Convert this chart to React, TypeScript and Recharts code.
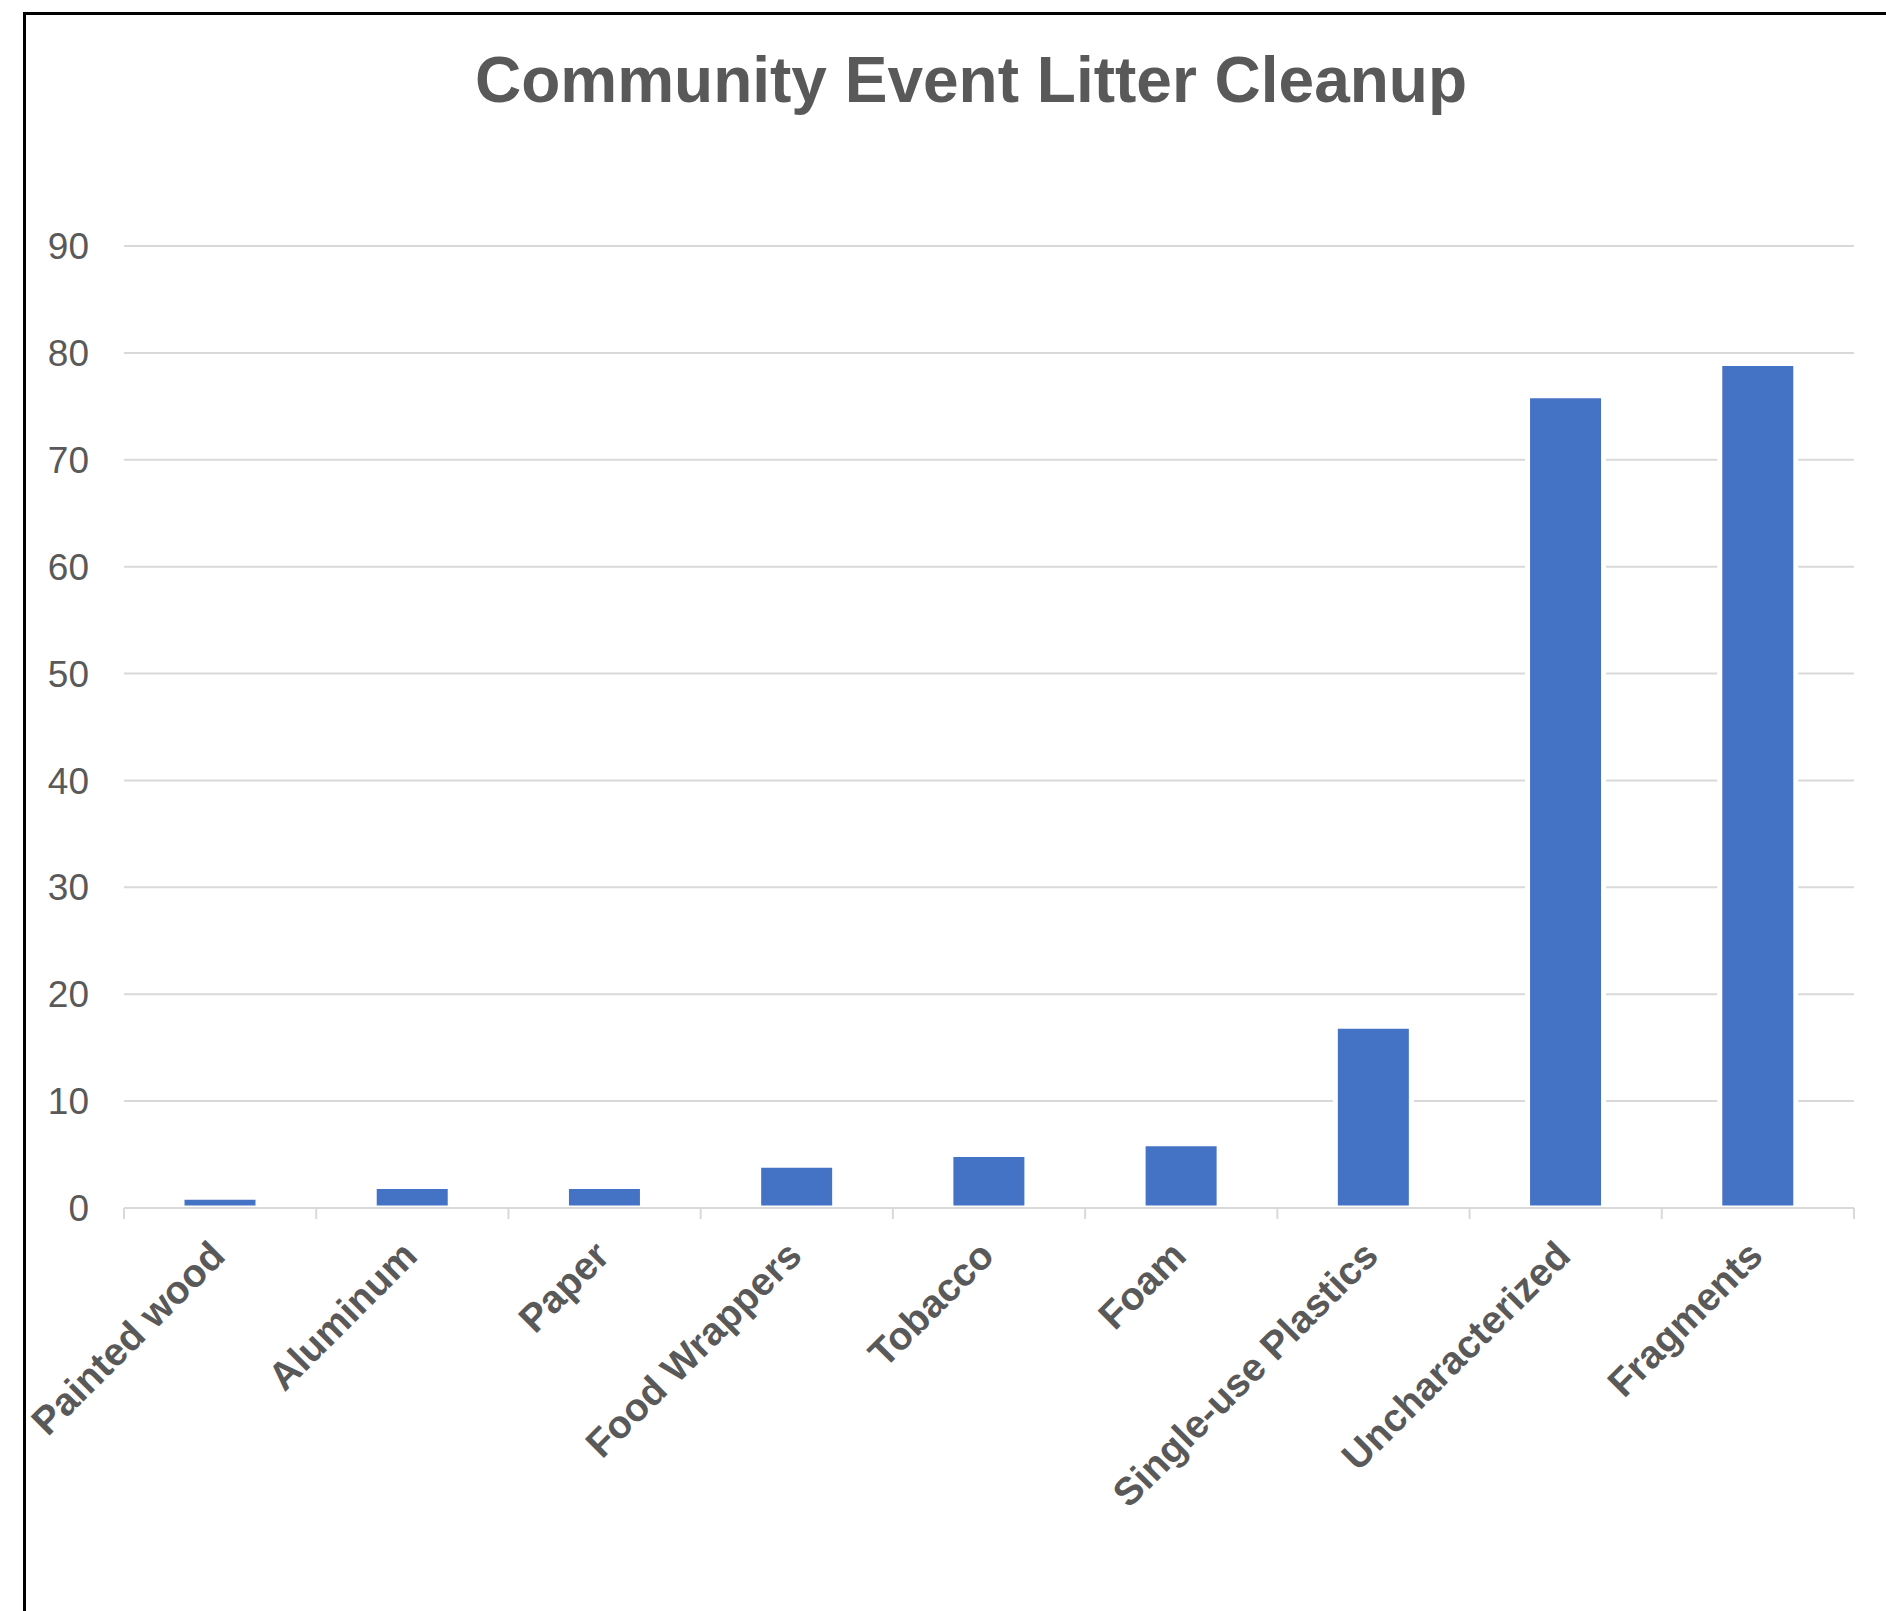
import { Bar, BarChart, CartesianGrid, XAxis, YAxis } from 'recharts';

const categories = ['Painted wood', 'Aluminum', 'Paper', 'Food Wrappers', 'Tobacco', 'Foam', 'Single-use Plastics', 'Uncharacterized', 'Fragments'];
const counts = [1, 2, 2, 4, 5, 6, 17, 76, 79];
const yTicks = [0, 10, 20, 30, 40, 50, 60, 70, 80, 90];

const data = categories.map((name, i) => ({ name, count: counts[i] }));

const FONT = '"Liberation Sans", Arial, sans-serif';
const TEXT = '#595959';
const GRID = '#d9d9d9';

const W = 1886;
const H = 1611;
const M = { top: 246, right: 32, left: 24, bottom: 203 };
const Y_AXIS_W = 100;
const X_AXIS_H = 200;
const BAND = (W - M.left - Y_AXIS_W - M.right) / categories.length;

function CategoryTick(props: any) {
  const { x, y, payload, index } = props;
  const half = BAND / 2;
  const tx = x + 7;
  const ty = y + 50;
  return (
    <g>
      <line x1={x - half} y1={y} x2={x - half} y2={y + 11} stroke={GRID} strokeWidth={2} />
      {index === categories.length - 1 && (
        <line x1={x + half} y1={y} x2={x + half} y2={y + 11} stroke={GRID} strokeWidth={2} />
      )}
      <text
        x={tx}
        y={ty}
        transform={`rotate(-45, ${tx}, ${ty})`}
        textAnchor="end"
        fill={TEXT}
        fontSize={39}
        fontWeight="bold"
        fontFamily={FONT}
      >
        {payload.value}
      </text>
    </g>
  );
}

export default function App() {
  return (
    <div style={{ position: 'absolute', left: 0, top: 0, width: W, height: H, overflow: 'hidden', background: '#fff' }}>
      <div
        style={{
          position: 'absolute',
          left: 23,
          top: 12,
          width: 1900,
          height: 1700,
          border: '3px solid #000',
        }}
      />
      <div
        style={{
          position: 'absolute',
          left: 23,
          width: 1896,
          top: 35,
          textAlign: 'center',
          fontFamily: FONT,
          fontWeight: 'bold',
          fontSize: 64,
          color: TEXT,
          lineHeight: '90px',
        }}
      >
        Community Event Litter Cleanup
      </div>
      <div style={{ position: 'absolute', left: 0, top: 0 }}>
        <BarChart width={W} height={H} data={data} margin={M}>
          <CartesianGrid vertical={false} stroke={GRID} strokeWidth={2} />
          <XAxis
            dataKey="name"
            interval={0}
            height={X_AXIS_H}
            tickLine={false}
            tickSize={0}
            tickMargin={0}
            axisLine={{ stroke: GRID, strokeWidth: 2 }}
            tick={<CategoryTick />}
          />
          <YAxis
            width={Y_AXIS_W}
            domain={[0, 90]}
            ticks={yTicks}
            axisLine={false}
            tickLine={false}
            tickSize={0}
            tickMargin={35}
            tick={{ fill: TEXT, fontSize: 37, fontFamily: FONT }}
          />
          <Bar dataKey="count" fill="#4472c4" stroke="#fff" strokeWidth={5} barSize={76} isAnimationActive={false} />
        </BarChart>
      </div>
    </div>
  );
}
